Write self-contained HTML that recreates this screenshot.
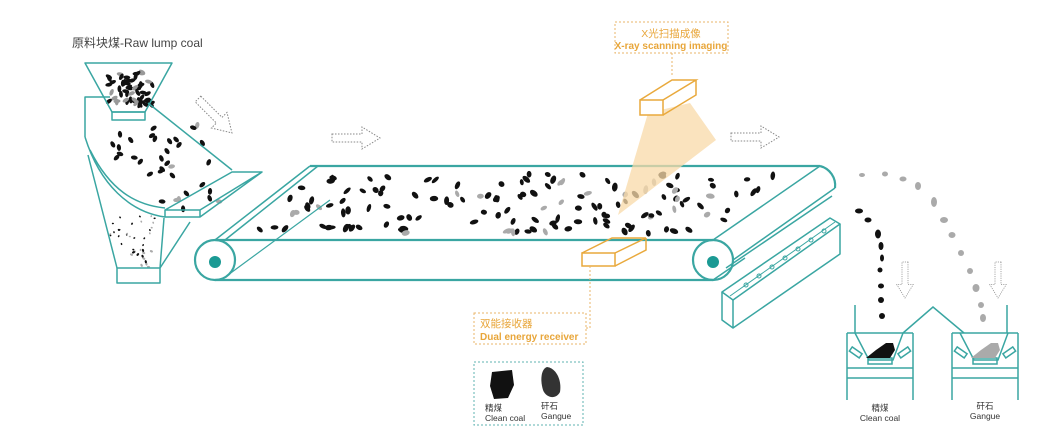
<!DOCTYPE html>
<html><head><meta charset="utf-8"><style>
html,body{margin:0;padding:0;background:#fff;}
svg{display:block}
text{font-family:"Liberation Sans","Noto Sans CJK SC",sans-serif;}
</style></head><body>
<svg id="s" width="1057" height="436" viewBox="0 0 1057 436" xmlns="http://www.w3.org/2000/svg">
<defs>
<path id="arr" d="M0,-4 H30 V-11 L48,0 L30,11 V4 H0 Z" fill="none" stroke="#888" stroke-width="1" stroke-dasharray="1.5 1.5"/>
</defs>
<g id="parts"></g>
<text x="72" y="47" font-size="12" fill="#444">原料块煤-Raw lump coal</text>

<g fill="none" stroke="#3aa6a2" stroke-width="1.5" stroke-linejoin="round">
<path d="M85,63 H172 L145,112 H112 Z"/>
<rect x="112" y="112" width="33" height="8"/>
<path d="M110,97 H85 V137"/>
<path d="M148,103 L232,170"/>
<path d="M85,137 C100,185 130,212 165,217"/>
<path d="M90,150 C110,190 135,205 165,208"/>
<path d="M165,217 H200 L262,172 H232 L165,210 Z M165,210 V217 M200,210 V217 M200,210 L262,172 M165,210 H200"/>
<path d="M88,155 L117,268 M164,218 L160,268 M190,222 L160,268"/>
<rect x="117" y="268" width="43" height="15"/>
<path d="M310,166 H820" stroke-width="2.2"/>
<path d="M310,166 L215,240 M318,166 L225,240" />
<path d="M215,240 H713" stroke-width="2.2"/>
<path d="M215,280 H713" stroke-width="2.2"/>
<circle cx="215" cy="260" r="20" stroke-width="2.2"/>
<path d="M228,275 L330,200" stroke-width="1.2"/>
<circle cx="713" cy="260" r="20" stroke-width="2.2"/>
<path d="M713,240 L820,166 M733,260 L835,188 M713,280 L745,258" />
<path d="M820,166 A20,20 0 0 1 835,188" stroke-width="2.2"/>
<path d="M726,268 L832,196"/>
<path d="M722,292 L830,218 L840,224 L733,300 Z"/>
<path d="M722,292 V320 L733,328 V300 M733,328 L840,254 V224"/>
<path d="M730,296 L835,222" stroke-width="1"/>
</g>
<g fill="none" stroke="#3aa6a2" stroke-width="1">
<circle cx="746" cy="285" r="2"/><circle cx="759" cy="276" r="2"/><circle cx="772" cy="267" r="2"/><circle cx="785" cy="258" r="2"/><circle cx="798" cy="249" r="2"/><circle cx="811" cy="240" r="2"/><circle cx="824" cy="231" r="2"/>
</g>
<circle cx="215" cy="262" r="6" fill="#1b9a94"/>
<circle cx="713" cy="262" r="6" fill="#1b9a94"/>

<polygon points="648,113 690,103 716,140 618,215" fill="#f8d9a8" opacity="0.75"/>
<g fill="none" stroke="#e9a93c" stroke-width="1.5">
<rect x="640" y="100" width="23" height="15" fill="#fff"/>
<path d="M640,100 L672,80 H696 L663,100 M696,80 V95 L663,115"/>
<rect x="582" y="253" width="33" height="13" fill="#fff"/>
<path d="M582,253 L612,238 H646 L615,253 M646,238 V250 L615,266"/>
</g>
<g fill="none" stroke="#e9b46a" stroke-width="1" stroke-dasharray="2 2">
<rect x="615" y="22" width="113" height="31"/>
<path d="M672,53 V76"/>
<path d="M590,266 V328 H586"/>
<rect x="474" y="313" width="112" height="31"/>
</g>
<text x="671" y="37" font-size="10.5" fill="#e8a63a" text-anchor="middle">X光扫描成像</text>
<text x="671" y="49" font-size="10" fill="#e8a63a" text-anchor="middle" font-weight="bold">X-ray scanning imaging</text>
<text x="480" y="327" font-size="10.5" fill="#e8a63a">双能接收器</text>
<text x="480" y="340" font-size="10" fill="#e8a63a" font-weight="bold">Dual energy receiver</text>

<rect x="474" y="362" width="109" height="63" fill="none" stroke="#5fb3b0" stroke-width="1" stroke-dasharray="2 2"/>
<path d="M492,372 L512,370 L514,385 L508,398 L494,399 L490,386 Z" fill="#111"/>
<path d="M547,367 C556,368 562,380 560,392 C556,400 546,398 543,390 C540,380 541,369 547,367 Z" fill="#333"/>
<text x="485" y="411" font-size="8.5" fill="#333">精煤</text>
<text x="485" y="421" font-size="8.5" fill="#333">Clean coal</text>
<text x="541" y="409" font-size="8.5" fill="#333">矸石</text>
<text x="541" y="419" font-size="8.5" fill="#333">Gangue</text>

<use href="#arr" transform="translate(198,99) rotate(45)"/>
<use href="#arr" transform="translate(332,138)"/>
<use href="#arr" transform="translate(731,137)"/>
<use href="#arr" transform="translate(905,262) rotate(90) scale(0.75)"/>
<use href="#arr" transform="translate(998,262) rotate(90) scale(0.75)"/>

<g fill="none" stroke="#3aa6a2" stroke-width="1.5">
<path d="M855,305 V333 M1007,305 V333"/>
<path d="M903,333 L933,307 L964,333"/>
<g id="bin">
<path d="M847,333 H913 M847,333 V400 M913,333 V400 M847,368 H913 M847,378 H913"/>
<path d="M855,333 L869,360 H893 L903,333"/>
<rect x="868" y="358" width="24" height="6"/>
<rect x="850" y="350" width="12" height="5" transform="rotate(35 856 352)"/>
<rect x="898" y="350" width="12" height="5" transform="rotate(-35 904 352)"/>
</g>
<use href="#bin" transform="translate(105,0)"/>
</g>
<path d="M866,358 L876,350 L886,343 L893,343 L895,350 L890,358 Z" fill="#111"/>
<path d="M971,358 L981,350 L991,343 L998,343 L1000,350 L995,358 Z" fill="#aaa"/>
<text x="880" y="411" font-size="8.5" fill="#333" text-anchor="middle">精煤</text>
<text x="880" y="421" font-size="8.5" fill="#333" text-anchor="middle">Clean coal</text>
<text x="985" y="409" font-size="8.5" fill="#333" text-anchor="middle">矸石</text>
<text x="985" y="419" font-size="8.5" fill="#333" text-anchor="middle">Gangue</text>

<g fill="#111">
<ellipse cx="859" cy="211" rx="4" ry="2.5"/><ellipse cx="868" cy="220" rx="3.5" ry="2.5"/><ellipse cx="878" cy="234" rx="3" ry="4.5"/><ellipse cx="881" cy="246" rx="2.5" ry="4"/><ellipse cx="882" cy="258" rx="2" ry="3.5"/><ellipse cx="880" cy="270" rx="2.5" ry="2.5"/><ellipse cx="881" cy="286" rx="3" ry="2.5"/><ellipse cx="881" cy="300" rx="3" ry="3"/><ellipse cx="882" cy="316" rx="3" ry="3"/>
</g>
<g fill="#aaa">
<ellipse cx="862" cy="175" rx="3" ry="2"/><ellipse cx="885" cy="174" rx="3" ry="2.5"/><ellipse cx="903" cy="179" rx="3.5" ry="2.5"/><ellipse cx="918" cy="186" rx="3" ry="4"/><ellipse cx="934" cy="202" rx="3" ry="5"/><ellipse cx="944" cy="220" rx="4" ry="3"/><ellipse cx="952" cy="235" rx="3.5" ry="3"/><ellipse cx="961" cy="253" rx="3" ry="3"/><ellipse cx="970" cy="271" rx="3" ry="3"/><ellipse cx="976" cy="288" rx="3.5" ry="4"/><ellipse cx="981" cy="305" rx="3" ry="3"/><ellipse cx="983" cy="318" rx="3" ry="4"/>
</g>
</svg>
<script>
(function(){
var s=12345;function r(){s=(s*16807)%2147483647;return s/2147483647;}
var g=document.getElementById('parts'),NS='http://www.w3.org/2000/svg';
function add(x,y,rx,ry,c,a){var e=document.createElementNS(NS,'ellipse');e.setAttribute('cx',x.toFixed(1));e.setAttribute('cy',y.toFixed(1));e.setAttribute('rx',rx.toFixed(1));e.setAttribute('ry',ry.toFixed(1));e.setAttribute('fill',c);e.setAttribute('transform','rotate('+a+' '+x.toFixed(1)+' '+y.toFixed(1)+')');g.appendChild(e);}
for(var i=0;i<140;i++){var y=174+r()*60;var xl=310-(y-168)*95/72+14,xr=820-(y-168)*103/72-12;var x=xl+r()*(xr-xl);var gray=r()<0.2;add(x,y,3+r()*1.6,1.9+r()*0.9,gray?'#aaa':'#111',Math.floor(r()*180));}
for(var i=0;i<40;i++){var y=125+r()*85;var x=95+(y-125)*0.6+r()*(130-(y-125)*0.3);if(x>220)continue;var gray=r()<0.2;add(x,y,3.4,2.1,gray?'#aaa':'#111',Math.floor(r()*180));}
for(var i=0;i<60;i++){var x=108+r()*46,y=72+r()*33;var gray=r()<0.3;add(x,y,3.5,1.9,gray?'#999':'#111',Math.floor(r()*180));}
for(var i=0;i<40;i++){var y=215+r()*52;var d=y>250;var x=(d?120:110)+r()*(d?36:45);add(x,y,d?1.6:1.1,d?1.1:0.8,r()<0.3?'#aaa':'#111',Math.floor(r()*180));}
})();
</script>
</body></html>
